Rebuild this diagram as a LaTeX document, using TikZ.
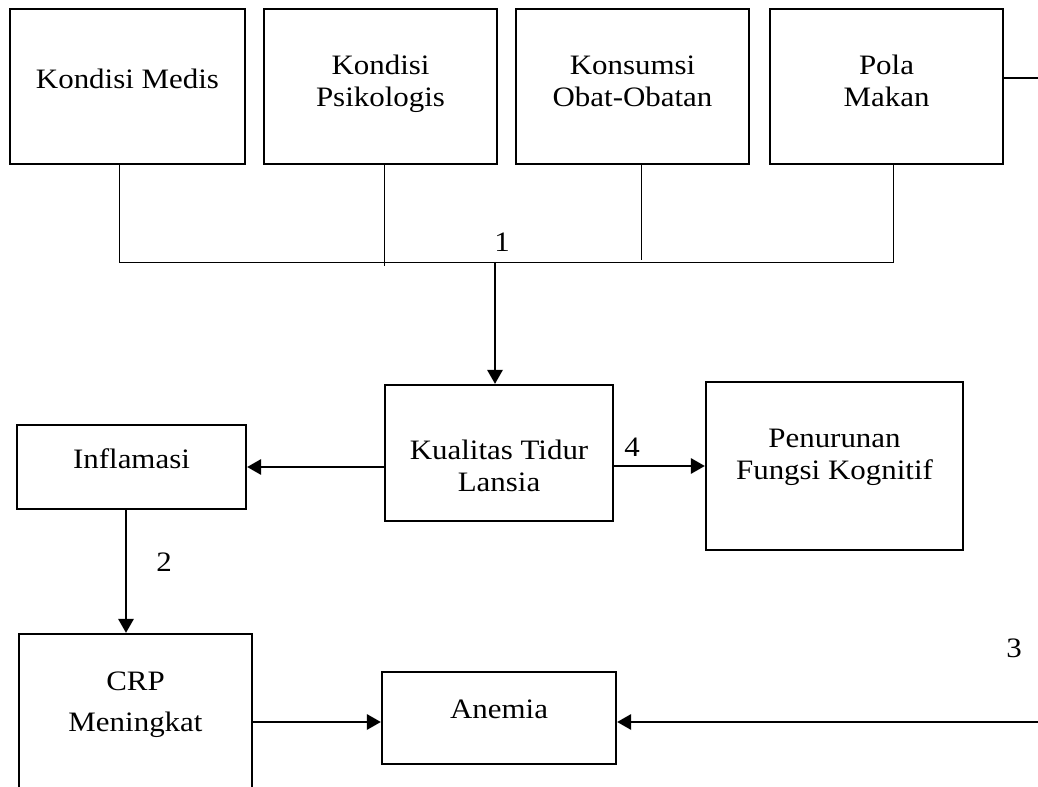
\documentclass[tikz,border=0pt]{standalone}
\usepackage{fontspec}
\setmainfont{Liberation Serif}[FakeStretch=1.1]
\usetikzlibrary{arrows.meta, positioning, calc}

\begin{document}
\begin{tikzpicture}[x=0.025cm, y=-0.025cm,
  box/.style={rectangle, draw, line width=1.6pt, inner sep=0pt},
  lbl/.style={align=center, font=\fontsize{20}{22.7}\selectfont, inner sep=0pt},
  num/.style={font=\fontsize{20}{22.7}\selectfont, inner sep=0pt},
  bus/.style={line width=0.7pt},
  arr/.style={line width=1.4pt, -{Triangle[length=10pt, width=11pt]}}
]
  \clip (0,0) rectangle (1038,787);
  \fill[white] (0,0) rectangle (1038,787);

  % Top row
  \node[box, minimum width=5.875cm, minimum height=3.875cm] (medis) at (127.5,86.5) {};
  \node[box, minimum width=5.825cm, minimum height=3.875cm] (psiko) at (380.5,86.5) {};
  \node[box, minimum width=5.825cm, minimum height=3.875cm] (obat) at (632.5,86.5) {};
  \node[box, minimum width=5.825cm, minimum height=3.875cm] (pola) at (886.5,86.5) {};
  \node[lbl] (medisT) at (127.5,79) {Kondisi Medis};
  \node[lbl] (psikoT) at (380.5,84) {Kondisi\\Psikologis};
  \node[lbl] (obatT) at (632.5,81) {Konsumsi\\Obat-Obatan};
  \node[lbl] (polaT) at (886.5,81) {Pola\\Makan};

  % Middle row
  \node[box, minimum width=5.7cm, minimum height=3.4cm] (kualitas) at (499,453) {};
  \node[box, minimum width=6.425cm, minimum height=4.2cm] (penurunan) at (834.5,466) {};
  \node[box, minimum width=5.725cm, minimum height=2.1cm] (inflamasi) at (131.5,467) {};
  \node[lbl] (kualitasT) at (499,466) {Kualitas Tidur\\Lansia};
  \node[lbl] (penurunanT) at (834.5,457) {Penurunan\\Fungsi Kognitif};
  \node[lbl] (inflamasiT) at (131.5,459) {Inflamasi};

  % Bottom row
  \node[box, minimum width=5.825cm, minimum height=4.4cm] (crp) at (135.5,722) {};
  \node[box, minimum width=5.85cm, minimum height=2.3cm] (anemia) at (499,718) {};
  \node[lbl, font=\fontsize{20}{29}\selectfont] (crpT) at (135.5,705) {CRP\\Meningkat};
  \node[lbl] (anemiaT) at (499,709) {Anemia};

  % Numbers
  \node[num] (n1) at (502,242) {1};
  \node[num] (n2) at (164,562) {2};
  \node[num] (n3) at (1014,648) {3};
  \node[num] (n4) at (632,447) {4};

  % Bus from the top row
  \coordinate (busL) at (119,262);
  \coordinate (busR) at (893,262);
  \coordinate (busM) at (495,262);
  \draw[bus] (medis.south -| busL) -- (busL) -- (busR) -- (pola.south -| busR);
  \draw[bus] (psiko.south -| 384,0) -- (384,266);
  \draw[bus] (obat.south -| 641,0) -- (641,260);
  \draw[arr] (busM) -- (busM |- kualitas.north);

  % Arrows
  \draw[arr] (kualitas.west |- inflamasi.east) -- (inflamasi.east);
  \draw[arr] (kualitas.east |- penurunan.west) -- (penurunan.west);
  \draw[arr] (inflamasi.south -| 126,0) -- (126,0 |- crp.north);
  \draw[arr] (crp.east) -- (crp.east -| anemia.west);

  % Line leaving Pola Makan and arrow coming in from the right
  \coordinate (polaR) at (1038,78);
  \coordinate (edgeR) at (1038,722);
  \draw[line width=1.4pt] (pola.east |- polaR) -- (polaR);
  \draw[arr] (edgeR) -- (edgeR -| anemia.east);
\end{tikzpicture}
\end{document}
